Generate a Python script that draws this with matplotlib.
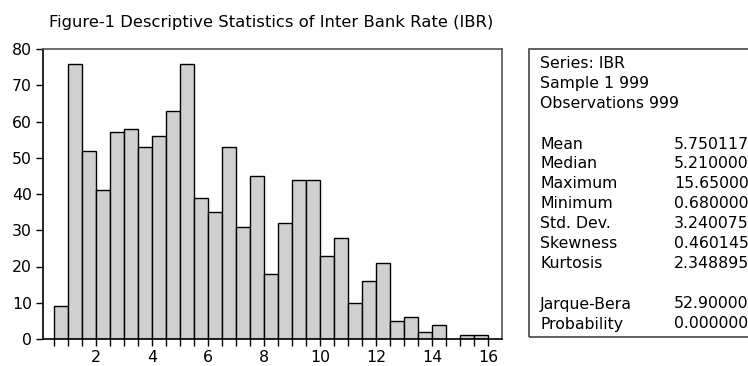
import numpy as np
import matplotlib.pyplot as plt
from matplotlib.patches import Rectangle

plt.rcParams['font.family'] = ['DejaVu Sans']

# histogram of IBR, bins of width 0.5 starting at 0.5
bin_edges = np.arange(0.5, 16.01, 0.5)
counts = [9, 76, 52, 41, 57, 58, 53, 56, 63, 76, 39, 35, 53, 31, 45, 18,
          32, 44, 44, 23, 28, 10, 16, 21, 5, 6, 2, 4, 0, 1, 1]

header_lines = ["Series: IBR", "Sample 1 999", "Observations 999"]
stat_names = ["Mean", "Median", "Maximum", "Minimum", "Std. Dev.",
              "Skewness", "Kurtosis"]
stat_values = ["5.750117", "5.210000", "15.65000", "0.680000", "3.240075",
               "0.460145", "2.348895"]
test_names = ["Jarque-Bera", "Probability"]
test_values = ["52.90000", "0.000000"]

W, H = 748, 366
FS = 11.3
fig = plt.figure(figsize=(W / 100, H / 100), dpi=100)
ax = fig.add_axes([43 / W, 1 - 339 / H, (502 - 43) / W, (339 - 49) / H])

ax.bar(bin_edges[:-1], counts, width=0.5, align='edge',
       color='#d0d0d0', edgecolor='black', linewidth=1.0)
ax.set_xlim(0.11, 16.5)
ax.set_ylim(0, 80)
ax.set_xticks(np.arange(2, 17, 2))
ax.set_xticks(bin_edges, minor=True)
ax.set_yticks(np.arange(0, 81, 10))
ax.tick_params(axis='both', which='both', direction='out', length=5,
               width=1, labelsize=FS, colors='black')
ax.tick_params(axis='x', pad=3)
ax.tick_params(axis='y', pad=3)
for side in ['left', 'bottom']:
    ax.spines[side].set_color('black')
    ax.spines[side].set_linewidth(1.2)
for side in ['top', 'right']:
    ax.spines[side].set_color('#555555')
    ax.spines[side].set_linewidth(1.2)

fig.text(49 / W, 1 - 27 / H,
         "Figure-1 Descriptive Statistics of Inter Bank Rate (IBR)",
         ha='left', va='baseline', fontsize=11.8)

# statistics panel
fig.patches.append(Rectangle((529 / W, 1 - 337 / H), 240 / W, 288 / H,
                             transform=fig.transFigure, fill=False,
                             edgecolor='#444444', linewidth=1.2))
lx, vx = 540 / W, 674 / W
for i, s in enumerate(header_lines):
    fig.text(lx, 1 - (68 + 20 * i) / H, s, va='baseline', fontsize=FS)
for i, (n, v) in enumerate(zip(stat_names, stat_values)):
    y = 1 - (148.5 + 20 * i) / H
    fig.text(lx, y, n, va='baseline', fontsize=FS)
    fig.text(vx, y, v, va='baseline', fontsize=FS)
for i, (n, v) in enumerate(zip(test_names, test_values)):
    y = 1 - (308.5 + 20 * i) / H
    fig.text(lx, y, n, va='baseline', fontsize=FS)
    fig.text(vx, y, v, va='baseline', fontsize=FS)

fig.savefig('out.png', dpi=100)
